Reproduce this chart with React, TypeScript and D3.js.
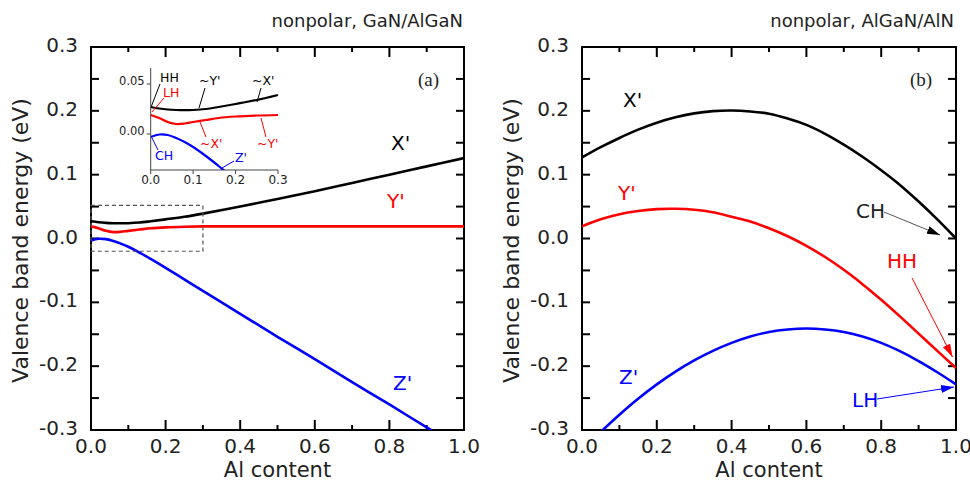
import React from "react";
import * as d3 from "d3";

// Panel (a): GaN/AlGaN, valence band edges vs Al content
const aAl = [0, 0.02, 0.04, 0.06, 0.08, 0.1, 0.13, 0.16, 0.2, 0.25, 0.3, 0.4, 0.5, 0.6, 0.7, 0.8, 0.9, 1.0];
const aX = [0.027, 0.0255, 0.0245, 0.024, 0.0238, 0.024, 0.025, 0.027, 0.030, 0.034, 0.039, 0.050, 0.062, 0.074, 0.087, 0.100, 0.113, 0.126];
const aY = [0.019, 0.016, 0.012, 0.010, 0.0105, 0.012, 0.014, 0.016, 0.0175, 0.0185, 0.019, 0.019, 0.019, 0.019, 0.019, 0.019, 0.019, 0.019];
const aZ = [-0.003, -0.0005, -0.001, -0.004, -0.008, -0.013, -0.022, -0.032, -0.046, -0.064, -0.082, -0.118, -0.154, -0.189, -0.225, -0.260, -0.296, -0.331];

// Panel (b): AlGaN/AlN
const bAl = [0, 0.05, 0.1, 0.15, 0.2, 0.25, 0.3, 0.35, 0.4, 0.45, 0.5, 0.55, 0.6, 0.65, 0.7, 0.75, 0.8, 0.85, 0.9, 0.95, 1.0];
const bX = [0.127, 0.143, 0.1575, 0.1705, 0.1815, 0.190, 0.196, 0.1995, 0.2005, 0.199, 0.1955, 0.188, 0.178, 0.164, 0.147, 0.128, 0.107, 0.084, 0.058, 0.030, 0.0];
const bY = [0.019, 0.030, 0.038, 0.043, 0.046, 0.0465, 0.045, 0.041, 0.034, 0.0265, 0.016, 0.0035, -0.0115, -0.029, -0.049, -0.0715, -0.096, -0.122, -0.149, -0.176, -0.203];
const bZAl = [0.05, 0.1, 0.15, 0.2, 0.25, 0.3, 0.35, 0.4, 0.45, 0.5, 0.55, 0.6, 0.65, 0.7, 0.75, 0.8, 0.85, 0.9, 0.95, 1.0];
const bZ = [-0.303, -0.276, -0.251, -0.2285, -0.2085, -0.191, -0.176, -0.1635, -0.1535, -0.1465, -0.1425, -0.141, -0.1425, -0.1465, -0.1535, -0.1635, -0.1765, -0.192, -0.2095, -0.2285];

const panelTitles = ["nonpolar, GaN/AlGaN", "nonpolar, AlGaN/AlN"];
const panelTags = ["(a)", "(b)"];
const xTitle = "Al content";
const yTitle = "Valence band energy (eV)";

const SANS = "'DejaVu Sans', Verdana, sans-serif";
const SERIF = "'Liberation Serif', 'Times New Roman', serif";
const BLACK = "#000000";
const RED = "#ff0000";
const BLUE = "#0000ff";

type Pt = [number, number];
const zip = (xs: number[], ys: number[]): Pt[] => xs.map((x, i) => [x, ys[i]]);

function Frame({ x, y, id }: { x: d3.ScaleLinear<number, number>; y: d3.ScaleLinear<number, number>; id: string }) {
  const [x0, x1] = x.range();
  const [y1, y0] = y.range();
  const xt = d3.range(0, 11).map((i) => i / 10);
  const yt = d3.range(-6, 7).map((i) => i / 20);
  const ylab = d3.range(-3, 4).map((i) => i / 10);
  const xlab = d3.range(0, 6).map((i) => i / 5);
  return (
    <g>
      <clipPath id={id}>
        <rect x={x0} y={y0} width={x1 - x0} height={y1 - y0} />
      </clipPath>
      {xt.map((v, i) => {
        const len = i % 2 === 0 ? 10 : 5;
        return (
          <g key={"xt" + i}>
            <line x1={x(v)} x2={x(v)} y1={y1} y2={y1 - len} stroke={BLACK} strokeWidth={2} />
            <line x1={x(v)} x2={x(v)} y1={y0} y2={y0 + len} stroke={BLACK} strokeWidth={2} />
          </g>
        );
      })}
      {yt.map((v, i) => (
        <g key={"yt" + i}>
          <line x1={x0} x2={x0 + 8} y1={y(v)} y2={y(v)} stroke={BLACK} strokeWidth={2} />
          <line x1={x1} x2={x1 - 8} y1={y(v)} y2={y(v)} stroke={BLACK} strokeWidth={2} />
        </g>
      ))}
      <rect x={x0} y={y0} width={x1 - x0} height={y1 - y0} fill="none" stroke={BLACK} strokeWidth={2} />
      {ylab.map((v, i) => (
        <text key={"yl" + i} x={x0 - 13} y={y(v) + 5} textAnchor="end" fontFamily={SANS} fontSize={20} fill="#222">
          {v.toFixed(1)}
        </text>
      ))}
      {xlab.map((v, i) => (
        <text key={"xl" + i} x={x(v)} y={y1 + 23} textAnchor="middle" fontFamily={SANS} fontSize={20} fill="#222">
          {v.toFixed(1)}
        </text>
      ))}
      <text x={(x0 + x1) / 2} y={477} textAnchor="middle" fontFamily={SANS} fontSize={21} fill="#222">
        {xTitle}
      </text>
      <text
        transform={`translate(${x0 - 63},${(y0 + y1) / 2 + 2}) rotate(-90)`}
        textAnchor="middle"
        fontFamily={SANS}
        fontSize={22}
        fill="#222"
      >
        {yTitle}
      </text>
    </g>
  );
}

export default function App() {
  const yA = d3.scaleLinear().domain([-0.3, 0.3]).range([430, 47]);
  const xA = d3.scaleLinear().domain([0, 1]).range([91, 464]);
  const xB = d3.scaleLinear().domain([0, 1]).range([582, 956]);
  const yB = yA.copy();

  const smooth = d3.curveCatmullRom.alpha(0.5);
  const lineA = d3.line<Pt>().x((d) => xA(d[0])).y((d) => yA(d[1])).curve(smooth);
  const lineB = d3.line<Pt>().x((d) => xB(d[0])).y((d) => yB(d[1])).curve(smooth);

  // inset of panel (a): zoom on the region near Al content 0
  const xi = d3.scaleLinear().domain([0, 0.3]).range([150.7, 278]);
  const yi = d3.scaleLinear().domain([-0.036, 0.066]).range([170, 68]);
  const lineI = d3.line<Pt>().x((d) => xi(d[0])).y((d) => yi(d[1])).curve(smooth);
  const insetX = aAl.filter((v) => v <= 0.3);
  const cut = (ys: number[]) => ys.slice(0, insetX.length);

  const curveLabel = (x: number, y: number, t: string, c: string, size = 20) => (
    <text x={x} y={y} fontFamily={SANS} fontSize={size} fill={c}>
      {t}
    </text>
  );

  return (
    <svg width={970} height={481} style={{ position: "absolute", left: 0, top: 0, background: "#fff" }}>
      <defs>
        {[
          ["arBlack", BLACK],
          ["arRed", RED],
          ["arBlue", BLUE],
        ].map(([id, c]) => (
          <marker key={id} id={id} markerUnits="userSpaceOnUse" markerWidth={14} markerHeight={9} refX={13} refY={4} orient="auto">
            <path d="M0,0 L13,4 L0,8 z" fill={c} />
          </marker>
        ))}
        <clipPath id="clipInset">
          <rect x={xi.range()[0]} y={yi.range()[1]} width={xi.range()[1] - xi.range()[0] + 3} height={yi.range()[0] - yi.range()[1]} />
        </clipPath>
      </defs>

      {/* panel titles */}
      <text x={463} y={27} textAnchor="end" fontFamily={SANS} fontSize={18} fill="#222">
        {panelTitles[0]}
      </text>
      <text x={954} y={27} textAnchor="end" fontFamily={SANS} fontSize={18} fill="#222">
        {panelTitles[1]}
      </text>

      {/* ---------- panel (a) ---------- */}
      <Frame x={xA} y={yA} id="clipA" />
      <g clipPath="url(#clipA)" fill="none" strokeWidth={2.6}>
        <path d={lineA(zip(aAl, aX)) || ""} stroke={BLACK} />
        <path d={lineA(zip(aAl, aY)) || ""} stroke={RED} />
        <path d={lineA(zip(aAl, aZ)) || ""} stroke={BLUE} />
      </g>
      <rect
        x={xA(0)}
        y={yA(0.052)}
        width={xA(0.3) - xA(0)}
        height={yA(-0.02) - yA(0.052)}
        fill="none"
        stroke="#555"
        strokeWidth={1.2}
        strokeDasharray="4,3"
      />
      <text x={418} y={86} fontFamily={SERIF} fontSize={19} fill="#222">
        {panelTags[0]}
      </text>
      {curveLabel(391, 150, "X'", BLACK)}
      {curveLabel(387, 208, "Y'", RED)}
      {curveLabel(393, 390, "Z'", BLUE)}

      {/* inset */}
      <g>
        <line x1={xi(0)} x2={xi(0)} y1={yi.range()[1]} y2={yi.range()[0]} stroke="#444" strokeWidth={1} />
        <line x1={xi(0)} x2={xi(0.3)} y1={yi.range()[0]} y2={yi.range()[0]} stroke="#444" strokeWidth={1} />
        {[0, 0.05].map((v) => (
          <g key={"iy" + v}>
            <line x1={xi(0) - 4} x2={xi(0)} y1={yi(v)} y2={yi(v)} stroke="#444" strokeWidth={1} />
            <text x={xi(0) - 6} y={yi(v) + 1} textAnchor="end" fontFamily={SANS} fontSize={11.5} fill="#222">
              {v.toFixed(2)}
            </text>
          </g>
        ))}
        {[0, 0.1, 0.2, 0.3].map((v) => (
          <g key={"ix" + v}>
            <line x1={xi(v)} x2={xi(v)} y1={yi.range()[0]} y2={yi.range()[0] + 4} stroke="#444" strokeWidth={1} />
            <text x={xi(v)} y={yi.range()[0] + 14} textAnchor="middle" fontFamily={SANS} fontSize={12} fill="#222">
              {v.toFixed(1)}
            </text>
          </g>
        ))}
        <g clipPath="url(#clipInset)" fill="none" strokeWidth={2.2}>
          <path d={lineI(zip(insetX, cut(aX))) || ""} stroke={BLACK} />
          <path d={lineI(zip(insetX, cut(aY))) || ""} stroke={RED} />
          <path d={lineI(zip(insetX, cut(aZ))) || ""} stroke={BLUE} />
        </g>
        {curveLabel(160, 82, "HH", BLACK, 12.5)}
        <line x1={160} y1={84} x2={151.5} y2={106} stroke={BLACK} strokeWidth={1} />
        {curveLabel(163, 97, "LH", RED, 12.5)}
        <line x1={164} y1={98} x2={152} y2={112} stroke={RED} strokeWidth={1} />
        {curveLabel(199, 85, "~Y'", BLACK, 12.5)}
        <line x1={205} y1={88} x2={199} y2={108} stroke={BLACK} strokeWidth={1} />
        {curveLabel(252, 85, "~X'", BLACK, 12.5)}
        <line x1={261} y1={88} x2={257} y2={102} stroke={BLACK} strokeWidth={1} />
        {curveLabel(200, 148, "~X'", RED, 12.5)}
        <line x1={206} y1={137} x2={200} y2={122} stroke={RED} strokeWidth={1} />
        {curveLabel(257, 148, "~Y'", RED, 12.5)}
        <line x1={266} y1={137} x2={261} y2={118} stroke={RED} strokeWidth={1} />
        {curveLabel(155, 160, "CH", BLUE, 12.5)}
        <line x1={158} y1={150} x2={152} y2={138} stroke={BLUE} strokeWidth={1} />
        {curveLabel(235, 162, "Z'", BLUE, 12.5)}
        <line x1={234} y1={161} x2={222} y2={168} stroke={BLUE} strokeWidth={1} />
      </g>

      {/* ---------- panel (b) ---------- */}
      <Frame x={xB} y={yB} id="clipB" />
      <g clipPath="url(#clipB)" fill="none" strokeWidth={2.6}>
        <path d={lineB(zip(bAl, bX)) || ""} stroke={BLACK} />
        <path d={lineB(zip(bAl, bY)) || ""} stroke={RED} />
        <path d={lineB(zip(bZAl, bZ)) || ""} stroke={BLUE} />
      </g>
      <text x={910} y={86} fontFamily={SERIF} fontSize={19} fill="#222">
        {panelTags[1]}
      </text>
      {curveLabel(623, 107, "X'", BLACK)}
      {curveLabel(618, 200, "Y'", RED)}
      {curveLabel(619, 384, "Z'", BLUE)}

      {curveLabel(856, 218, "CH", "#222")}
      <line x1={884} y1={212} x2={940} y2={235} stroke="#555" strokeWidth={1} markerEnd="url(#arBlack)" />
      {curveLabel(887, 268, "HH", RED)}
      <line x1={912} y1={278} x2={952.5} y2={357} stroke={RED} strokeWidth={1} markerEnd="url(#arRed)" />
      {curveLabel(852, 407, "LH", BLUE)}
      <line x1={877} y1={399} x2={954} y2={387} stroke={BLUE} strokeWidth={1} markerEnd="url(#arBlue)" />
    </svg>
  );
}
